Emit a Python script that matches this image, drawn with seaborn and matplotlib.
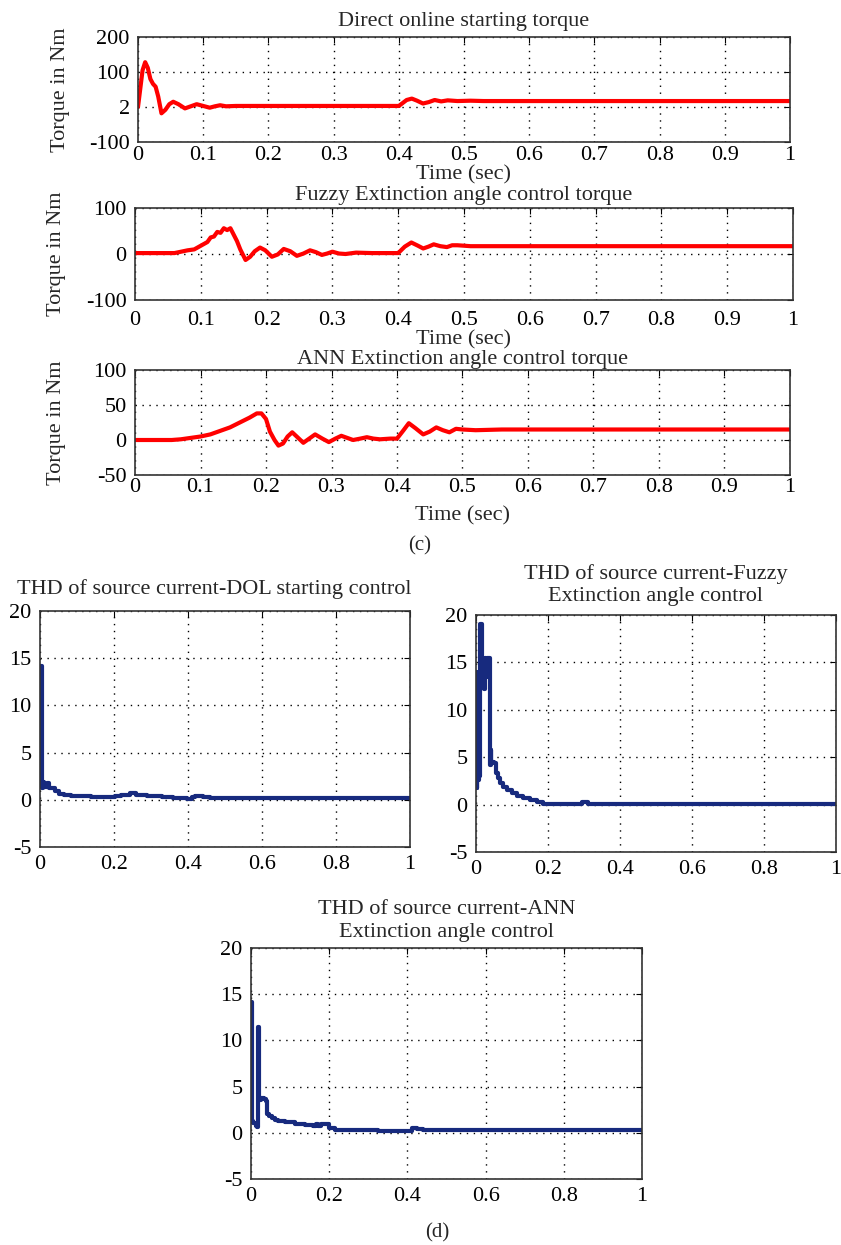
import pandas as pd
import seaborn as sns
import matplotlib.pyplot as plt

sns.set_style("white")
plt.rcParams["font.family"] = ["Liberation Serif", "DejaVu Serif"]
plt.rcParams["axes.unicode_minus"] = False

# ---------------------------------------------------------
# Torque curves (Nm)
# ---------------------------------------------------------
dol_t = [0, 0.003, 0.007, 0.011, 0.015, 0.019, 0.023, 0.027, 0.031, 0.036, 0.042,
         0.048, 0.054, 0.062, 0.072, 0.081, 0.090, 0.100, 0.110, 0.118, 0.126, 0.135,
         0.15, 0.2, 0.3, 0.4, 0.405, 0.412, 0.42, 0.428, 0.437, 0.446, 0.455, 0.465,
         0.475, 0.49, 0.51, 0.53, 0.6, 1.0]
dol_torque = [0, 45, 105, 128, 112, 80, 66, 58, 30, -18, -8,
              8, 15, 8, -4, 2, 8, 3, -2, 2, 5, 2,
              3, 3, 3, 3, 10, 20, 24, 18, 10, 14, 20, 16,
              19, 17, 18, 17, 17, 17]

fuzzy_t = [0, 0.06, 0.07, 0.08, 0.09, 0.095, 0.10, 0.105, 0.11, 0.115, 0.12, 0.125,
           0.13, 0.135, 0.14, 0.145, 0.15, 0.155, 0.16, 0.168, 0.175, 0.182, 0.19,
           0.198, 0.208, 0.217, 0.226, 0.236, 0.246, 0.256, 0.266, 0.275, 0.284,
           0.292, 0.3, 0.31, 0.32, 0.336, 0.36, 0.4, 0.41, 0.42, 0.43, 0.438, 0.446,
           0.454, 0.464, 0.474, 0.482, 0.49, 0.51, 0.55, 1.0]
fuzzy_torque = [2, 2, 5, 8, 10, 14, 18, 22, 26, 36, 38, 48,
                46, 56, 52, 56, 42, 28, 10, -13, -6, 6, 14,
                8, -6, -1, 11, 6, -4, 1, 8, 4, -2,
                1, 5, 1, 0, 3, 2, 2, 16, 25, 18, 12, 16,
                21, 17, 15, 19, 19, 17, 17, 17]

ann_t = [0, 0.056, 0.07, 0.085, 0.1, 0.115, 0.13, 0.145, 0.16, 0.175, 0.186, 0.193,
         0.2, 0.206, 0.213, 0.219, 0.226, 0.233, 0.24, 0.248, 0.257, 0.266, 0.275,
         0.286, 0.296, 0.306, 0.315, 0.324, 0.333, 0.344, 0.354, 0.364, 0.374, 0.39,
         0.4, 0.41, 0.418, 0.428, 0.44, 0.45, 0.46, 0.47, 0.48, 0.49, 0.5, 0.52,
         0.56, 1.0]
ann_torque = [0, 0, 1, 3, 5, 8, 13, 18, 25, 32, 38, 38,
              30, 12, 0, -8, -5, 5, 11, 4, -4, 2, 8,
              2, -3, 2, 6, 3, 0, 2, 4, 2, 1, 2,
              2, 14, 24, 17, 8, 12, 18, 14, 11, 16, 15, 14,
              15, 15]

# ---------------------------------------------------------
# THD of source current (%)
# ---------------------------------------------------------
thd_dol_t = [0.004, 0.005, 0.007, 0.012, 0.018, 0.024, 0.03, 0.04, 0.05, 0.065,
             0.085, 0.11, 0.137, 0.17, 0.203, 0.22, 0.243, 0.26, 0.29, 0.33, 0.36,
             0.396, 0.41, 0.42, 0.44, 0.46, 0.5, 1.0]
thd_dol = [14.2, 1.2, 1.9, 1.4, 1.8, 1.3, 1.2, 0.9, 0.6, 0.5,
           0.4, 0.35, 0.3, 0.3, 0.45, 0.5, 0.7, 0.55, 0.4, 0.3, 0.2,
           0.08, 0.3, 0.45, 0.25, 0.2, 0.2, 0.2]

thd_fuzzy_t = [0.001, 0.002, 0.004, 0.008, 0.011, 0.012, 0.016, 0.017, 0.019, 0.022,
               0.024, 0.028, 0.031, 0.038, 0.039, 0.041, 0.043, 0.05, 0.056, 0.062,
               0.068, 0.076, 0.087, 0.099, 0.115, 0.131, 0.15, 0.169, 0.187, 0.29,
               0.295, 0.31, 0.312, 1.0]
thd_fuzzy = [14, 1.8, 2.6, 3.0, 3.3, 19.1, 19.1, 13, 15.5, 12.2,
             15.5, 13.5, 15.5, 15.5, 4.2, 5.8, 4.5, 4.4, 3.3, 2.8,
             2.3, 1.9, 1.5, 1.2, 0.9, 0.7, 0.5, 0.3, 0.1, 0.1,
             0.3, 0.3, 0.1, 0.1]

thd_ann_t = [0.001, 0.002, 0.006, 0.012, 0.016, 0.017, 0.019, 0.0205, 0.025, 0.033,
             0.0375, 0.040, 0.046, 0.053, 0.062, 0.070, 0.087, 0.113, 0.138, 0.158,
             0.165, 0.172, 0.18, 0.193, 0.2, 0.215, 0.266, 0.326, 0.402, 0.412,
             0.425, 0.44, 1.0]
thd_ann = [14.2, 1.3, 1.1, 0.7, 0.6, 11.4, 11.4, 3.5, 3.8, 3.7,
           3.4, 2.0, 1.8, 1.6, 1.4, 1.3, 1.15, 1.0, 0.8, 0.7,
           0.9, 0.75, 0.95, 0.95, 0.5, 0.35, 0.25, 0.2, 0.15, 0.5,
           0.4, 0.25, 0.25]

W, H = 841, 1245
FS = 16
fig = plt.figure(figsize=(W / 100, H / 100), dpi=100)


def box(x0, y0, x1, y1):
    # pixel box (top-left origin) -> figure fraction rect
    return [x0 / W, 1 - y1 / H, (x1 - x0) / W, (y1 - y0) / H]


def style(ax, xpad, ypad=6):
    ax.grid(True, color="black", linestyle=(0, (1, 4)), linewidth=1.0)
    for s in ax.spines.values():
        s.set_color("#333333")
        s.set_linewidth(1.2)
    ax.tick_params(direction="in", length=4, top=True, right=True,
                   labelsize=FS, colors="black")
    ax.tick_params(axis="x", pad=xpad)
    ax.tick_params(axis="y", pad=ypad)


def torque_panel(rect, t, v, title, ylim, yticks, ylabels, tpad, xpad, lpad):
    ax = fig.add_axes(box(*rect))
    df = pd.DataFrame({"t": t, "v": v})
    sns.lineplot(data=df, x="t", y="v", ax=ax, color="#ff0000", linewidth=3,
                 sort=False, estimator=None)
    ax.set_xlim(0, 1)
    ax.set_ylim(*ylim)
    ax.set_xticks([0, 0.1, 0.2, 0.3, 0.4, 0.5, 0.6, 0.7, 0.8, 0.9, 1])
    ax.set_xticklabels(["0", "0.1", "0.2", "0.3", "0.4", "0.5", "0.6", "0.7", "0.8", "0.9", "1"])
    ax.set_yticks(yticks)
    ax.set_yticklabels(ylabels)
    style(ax, xpad)
    ax.set_title(title, fontsize=FS, pad=tpad)
    ax.set_xlabel("Time (sec)", fontsize=FS, labelpad=lpad)
    ax.set_ylabel("Torque in Nm", fontsize=FS)
    ax.yaxis.set_label_coords(-0.105, 0.5)
    return ax


torque_panel((138, 37, 790, 142), dol_t, dol_torque, "Direct online starting torque",
             (-100, 200), [-100, 0, 100, 200], ["-100", "2", "100", "200"], 8, 3, 0)
torque_panel((135, 208, 793, 300), fuzzy_t, fuzzy_torque, "Fuzzy Extinction angle control torque",
             (-100, 100), [-100, 0, 100], ["-100", "0", "100"], 6, 8, 0)
torque_panel((135, 370, 790, 475), ann_t, ann_torque, "ANN Extinction angle control torque",
             (-50, 100), [-50, 0, 50, 100], ["-50", "0", "50", "100"], 4, 2, 7)


def thd_panel(rect, t, v, title, title_x=0.5, tpad=6):
    ax = fig.add_axes(box(*rect))
    df = pd.DataFrame({"t": t, "v": v})
    sns.lineplot(data=df, x="t", y="v", ax=ax, color="#172a7e", linewidth=3,
                 sort=False, estimator=None, drawstyle="steps-post")
    ax.set_xlim(0, 1)
    ax.set_ylim(-5, 20)
    ax.set_xticks([0, 0.2, 0.4, 0.6, 0.8, 1])
    ax.set_xticklabels(["0", "0.2", "0.4", "0.6", "0.8", "1"])
    ax.set_yticks([-5, 0, 5, 10, 15, 20])
    style(ax, 6)
    ax.set_title(title, fontsize=FS, pad=tpad, x=title_x, linespacing=1.25)
    ax.set_xlabel("")
    ax.set_ylabel("")
    return ax


thd_panel((40, 611, 410, 847), thd_dol_t, thd_dol,
          "THD of source current-DOL starting control", title_x=0.47, tpad=12)
thd_panel((476, 615, 836, 852), thd_fuzzy_t, thd_fuzzy,
          "THD of source current-Fuzzy\nExtinction angle control", tpad=10)
thd_panel((251, 948, 642, 1179), thd_ann_t, thd_ann,
          "THD of source current-ANN\nExtinction angle control", tpad=8)

fig.text(420 / W, 1 - 546 / H, "(c)", ha="center", va="center", fontsize=15)
fig.text(437 / W, 1 - 1233 / H, "(d)", ha="center", va="center", fontsize=15)

fig.savefig("out.png", dpi=100)
